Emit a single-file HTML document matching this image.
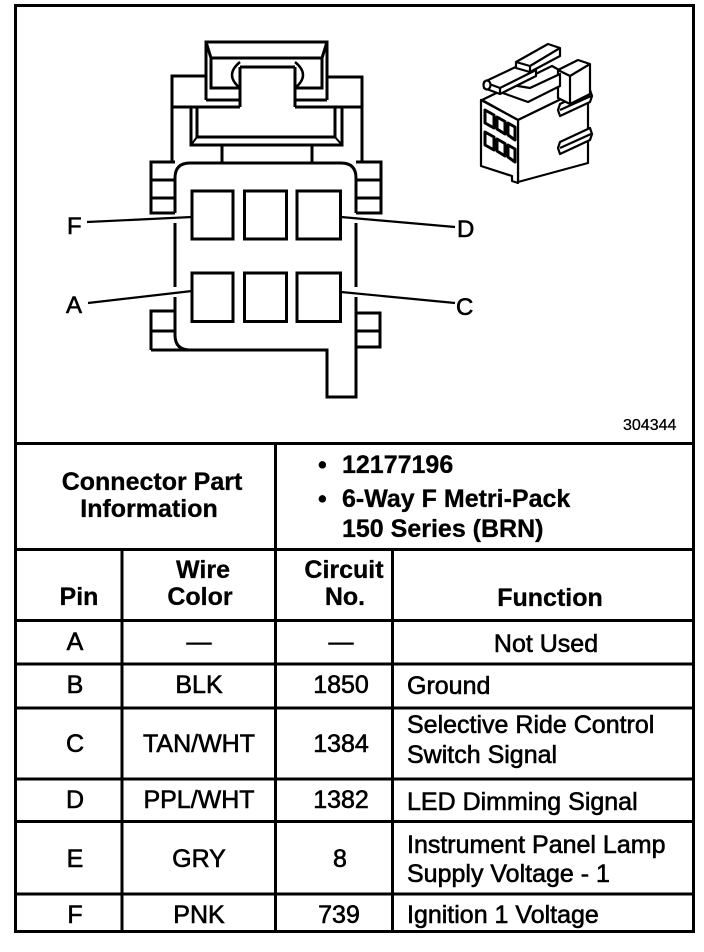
<!DOCTYPE html>
<html><head><meta charset="utf-8">
<style>
html,body{margin:0;padding:0;background:#fff;}
svg{display:block;}
text{font-family:"Liberation Sans",Arial,sans-serif;fill:#000;stroke:#000;stroke-width:0.6px;}
.b{font-weight:bold;stroke-width:0.3px;}
</style></head><body>
<svg width="704" height="952" viewBox="0 0 704 952" xmlns="http://www.w3.org/2000/svg">
<rect width="704" height="952" fill="#fff"/>

<!-- Frame & table lines -->
<g stroke="#000" stroke-width="3" fill="none">
  <rect x="15.5" y="5.5" width="678" height="926"/>
  <line x1="14" y1="443.5" x2="695" y2="443.5"/>
  <line x1="14" y1="549.5" x2="695" y2="549.5"/>
  <line x1="14" y1="620.5" x2="695" y2="620.5"/>
  <line x1="14" y1="664" x2="695" y2="664"/>
  <line x1="14" y1="708" x2="695" y2="708"/>
  <line x1="14" y1="779" x2="695" y2="779"/>
  <line x1="14" y1="821.5" x2="695" y2="821.5"/>
  <line x1="14" y1="894" x2="695" y2="894"/>
  <line x1="275.5" y1="443" x2="275.5" y2="932"/>
  <line x1="122" y1="549" x2="122" y2="932"/>
  <line x1="392.5" y1="549" x2="392.5" y2="932"/>
</g>

<!-- Connector face drawing -->
<g fill="none" stroke="#000" stroke-width="3" stroke-linejoin="miter">
  <path d="M206,100 V42 H327 V100"/>
  <path d="M206,42 L211,58 H322 L327,42"/>
  <path d="M211,58 V88 H240"/>
  <path d="M322,58 V88 H295"/>
  <path d="M206,100 H240"/>
  <path d="M327,100 H295"/>
  <path d="M240,67 H295"/>
  <path d="M240,67 V107"/>
  <path d="M295,67 V107"/>
  <path d="M240,62 Q224,75 240,88" stroke-width="2.5"/>
  <path d="M295,62 Q311,75 295,88" stroke-width="2.5"/>
  <path d="M172,163 V76 H206"/>
  <path d="M327,77 H362 V163"/>
  <path d="M172,107 H240"/>
  <path d="M295,107 H362"/>
  <path d="M191,107 V145 H342 V107"/>
  <path d="M197,107 V137 H335 V107"/>
  <path d="M197,137 L191,145 M335,137 L342,145" stroke-width="2"/>
  <path d="M222,145 V163 M312,145 V163"/>
  <path d="M175,178 Q175,163 190,163 H341 Q356,163 356,178"/>
  <path d="M175,178 V213 M175,223 V287 M175,297 V335 Q175,350 190,350"/>
  <path d="M151,350 H327 V397 H356 V297 M356,287 V223 M356,213 V178"/>
  <path d="M175,162 H151 V213 H175 M151,180 H175 M151,198 H175"/>
  <path d="M356,162 H381 V213 H356 M356,180 H381 M356,198 H381"/>
  <path d="M175,311 H151 V350 M151,331 H175"/>
  <path d="M356,313 H380 V347 H356 M356,331 H380"/>
  <rect x="192" y="191" width="41" height="48"/>
  <rect x="244.5" y="191" width="42" height="48"/>
  <rect x="297" y="191" width="43.5" height="48"/>
  <rect x="192" y="273" width="41" height="48.5"/>
  <rect x="244.5" y="273" width="42" height="48.5"/>
  <rect x="297" y="273" width="43.5" height="48.5"/>
</g>
<g stroke="#000" stroke-width="2.2" fill="none">
  <line x1="87" y1="222" x2="192" y2="217"/>
  <line x1="341" y1="217" x2="455" y2="227"/>
  <line x1="88" y1="303" x2="192" y2="291"/>
  <line x1="341" y1="292" x2="455" y2="303"/>
</g>
<text x="67" y="234" font-size="24">F</text>
<text x="457" y="237" font-size="24">D</text>
<text x="66" y="313" font-size="24">A</text>
<text x="456" y="315" font-size="24">C</text>

<!-- 3D connector icon -->
<g fill="#fff" stroke="#000" stroke-width="2.2" stroke-linejoin="round">
  <polygon points="482,100 518,120 588,86 552,66"/>
  <polygon points="518,120 588,86 588,163 518,182"/>
  <polygon points="481,100 518,120 518,183 512,181 512,176 481,166"/>
  <polygon points="485,110 494,115 494,128 485,123" stroke-width="3"/>
  <polygon points="497,117 505,121.5 505,134 497,129" stroke-width="3"/>
  <polygon points="508,123 515,127 515,140 508,135" stroke-width="3"/>
  <polygon points="485,132 494,137 494,150 485,145" stroke-width="3"/>
  <polygon points="497,139 505,143.5 505,156 497,151" stroke-width="3"/>
  <polygon points="508,145 515,149 515,162 508,157" stroke-width="3"/>
  <polygon points="560,104 590,90 592,96 590,102 560,116 558,110"/>
  <line x1="560" y1="110" x2="591" y2="96"/>
  <polygon points="560,142 590,128 592,134 590,140 560,154 558,148"/>
  <line x1="560" y1="148" x2="591" y2="134"/>
  <polygon points="558,70 578,60 590,64 590,94 570,104 558,98"/>
  <polyline points="558,70 570,76 590,64" fill="none"/>
  <line x1="570" y1="76" x2="570" y2="104"/>
  <polygon points="500,92 528,102 560,86 560,74 530,88 506,84"/>
  <polygon points="484,82 522,64 536,70 536,76 500,94 484,88"/>
  <polyline points="484,82 500,88 536,70" fill="none"/>
  <line x1="500" y1="88" x2="500" y2="94"/>
  <polygon points="516,62 548,44 560,48 560,56 530,72 516,68"/>
  <polyline points="516,62 530,66 560,48" fill="none"/>
  <line x1="530" y1="66" x2="530" y2="72"/>
  <ellipse cx="487" cy="85" rx="3.5" ry="4.5"/>
</g>

<text x="623" y="430" font-size="16" style="stroke-width:0.3px">304344</text>

<text class="b" x="152" y="490" font-size="25" text-anchor="middle">Connector Part</text>
<text class="b" x="149" y="517" font-size="25" text-anchor="middle">Information</text>
<text class="b" x="318" y="473" font-size="25">•</text>
<text class="b" x="342" y="473" font-size="25">12177196</text>
<text class="b" x="318" y="507" font-size="25">•</text>
<text class="b" x="342" y="507" font-size="25">6-Way F Metri-Pack</text>
<text class="b" x="342" y="537" font-size="25">150 Series (BRN)</text>

<text class="b" x="79" y="605" font-size="25" text-anchor="middle">Pin</text>
<text class="b" x="203" y="578" font-size="25" text-anchor="middle">Wire</text>
<text class="b" x="200" y="605" font-size="25" text-anchor="middle">Color</text>
<text class="b" x="344" y="578" font-size="25" text-anchor="middle">Circuit</text>
<text class="b" x="345" y="605" font-size="25" text-anchor="middle">No.</text>
<text class="b" x="550" y="606" font-size="25" text-anchor="middle">Function</text>

<g font-size="25">
  <text x="75" y="650" text-anchor="middle">A</text>
  <text x="199" y="650" text-anchor="middle">—</text>
  <text x="341" y="650" text-anchor="middle">—</text>
  <text x="546" y="652" text-anchor="middle">Not Used</text>

  <text x="75" y="693" text-anchor="middle">B</text>
  <text x="199" y="693" text-anchor="middle">BLK</text>
  <text x="341" y="693" text-anchor="middle">1850</text>
  <text x="407" y="694">Ground</text>

  <text x="75" y="752" text-anchor="middle">C</text>
  <text x="199" y="752" text-anchor="middle">TAN/WHT</text>
  <text x="341" y="752" text-anchor="middle">1384</text>
  <text x="407" y="733">Selective Ride Control</text>
  <text x="407" y="763">Switch Signal</text>

  <text x="75" y="808" text-anchor="middle">D</text>
  <text x="199" y="808" text-anchor="middle">PPL/WHT</text>
  <text x="341" y="808" text-anchor="middle">1382</text>
  <text x="407" y="810">LED Dimming Signal</text>

  <text x="75" y="867" text-anchor="middle">E</text>
  <text x="199" y="867" text-anchor="middle">GRY</text>
  <text x="340" y="867" text-anchor="middle">8</text>
  <text x="407" y="853">Instrument Panel Lamp</text>
  <text x="407" y="882">Supply Voltage - 1</text>

  <text x="75" y="923" text-anchor="middle">F</text>
  <text x="199" y="923" text-anchor="middle">PNK</text>
  <text x="339" y="923" text-anchor="middle">739</text>
  <text x="407" y="923">Ignition 1 Voltage</text>
</g>
</svg>
</body></html>
